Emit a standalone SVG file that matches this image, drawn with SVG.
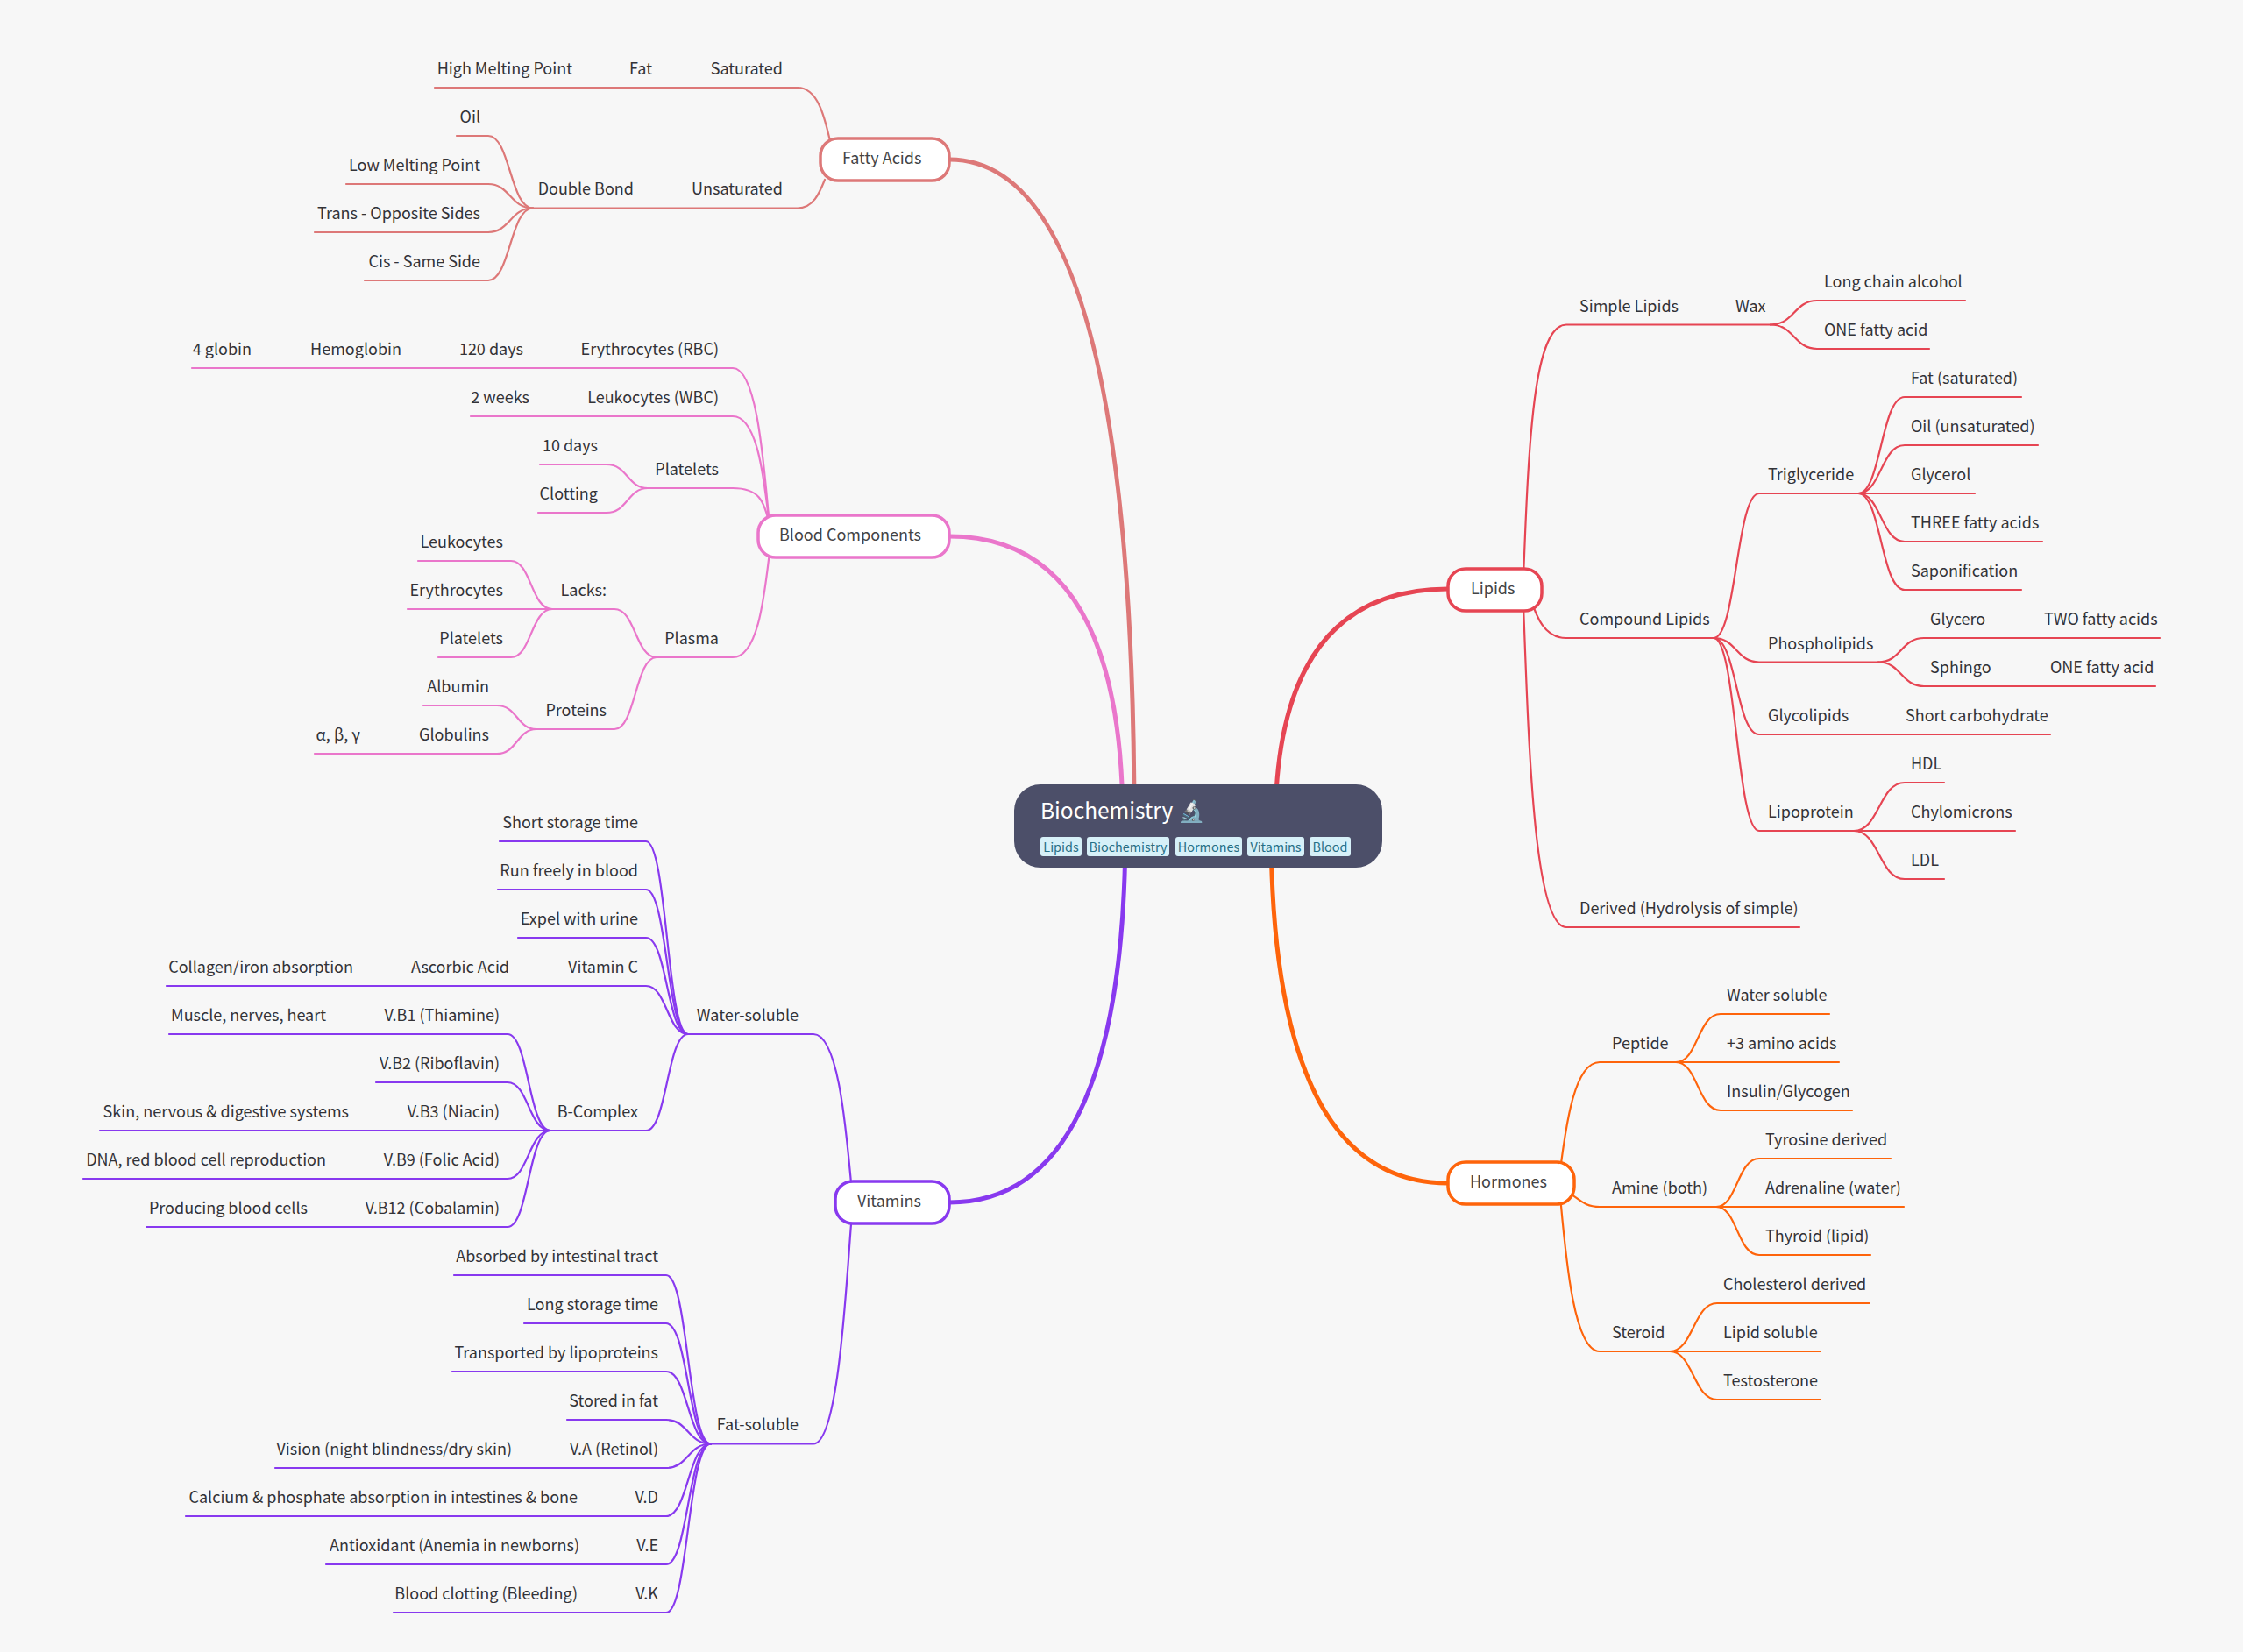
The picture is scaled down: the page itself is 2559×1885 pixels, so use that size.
<svg xmlns="http://www.w3.org/2000/svg" width="2559" height="1885" viewBox="0 0 2559 1885">
<style>
text{font-family:"Noto Sans CJK SC","Source Sans Pro","Noto Sans",sans-serif;font-size:18px;fill:#333338}
.e{text-anchor:end}
.m{fill:#444446}
.c path{fill:none;stroke-width:2.2;stroke-linecap:round}
.r path{fill:none;stroke-width:5}
.fa path{stroke:#dd7878}.bl path{stroke:#ea76cb}.vi path{stroke:#8839ef}.li path{stroke:#e64553}.ho path{stroke:#fe640b}
.main{fill:#fff;stroke-width:3.5}
.tag{fill:#d6f0f8}
.tt{font-size:14.4px;fill:#276f86;text-anchor:middle}
</style>
<rect width="2559" height="1885" fill="#f7f7f7"/>
<g id="connectors">
<g class="r">
<path stroke="#dd7878" d="M1294 940Q1294 182 1083 182"/>
<path stroke="#ea76cb" d="M1281 940Q1281 612 1083 612"/>
<path stroke="#8839ef" d="M1284 942Q1284 1372 1083 1372"/>
<path stroke="#e64553" d="M1455 942Q1455 672 1652 672"/>
<path stroke="#fe640b" d="M1450 942Q1450 1350 1652 1350"/>
</g>
<g class="c fa">
<path d="M948 165C942 140 935 100 910 100H496"/>
<path d="M941 205C935 220 928 237.5 910 237.5H608"/>
<path d="M608 237.5C582 237.5 582 155 557 155H521"/>
<path d="M608 237.5C582 237.5 582 210 557 210H395"/>
<path d="M608 237.5C582 237.5 582 265 557 265H359"/>
<path d="M608 237.5C582 237.5 582 320 557 320H416"/>
</g>
<g class="c bl">
<path d="M878 600C872 540 865 420 836 420H219"/>
<path d="M878 600C872 550 865 475 836 475H537"/>
<path d="M878 600C872 570 865 557 836 557H739"/>
<path d="M878 630C872 680 865 750 836 750H749"/>
<path d="M739 557C716 557 716 530 692 530H616"/>
<path d="M739 557C716 557 716 585 692 585H614"/>
<path d="M749 750C725 750 725 695 701 695H630"/>
<path d="M749 750C725 750 725 832 701 832H612"/>
<path d="M630 695C606 695 606 640 583 640H477"/>
<path d="M630 695C606 695 606 695 583 695H465"/>
<path d="M630 695C606 695 606 750 583 750H500"/>
<path d="M612 832C590 832 590 805 567 805H483"/>
<path d="M612 832C590 832 590 860 567 860H359"/>
</g>
<g class="c vi">
<path d="M972 1360C966 1300 958 1180 928 1180H785"/>
<path d="M972 1385C966 1450 958 1647.5 928 1647.5H811"/>
<path d="M785 1180C761 1180 761 960 737 960H570"/>
<path d="M785 1180C761 1180 761 1015 737 1015H568"/>
<path d="M785 1180C761 1180 761 1070 737 1070H591"/>
<path d="M785 1180C761 1180 761 1125 737 1125H190"/>
<path d="M785 1180C761 1180 761 1290 737 1290H628"/>
<path d="M628 1290C603 1290 603 1180 579 1180H193"/>
<path d="M628 1290C603 1290 603 1235 579 1235H429"/>
<path d="M628 1290C603 1290 603 1290 579 1290H114"/>
<path d="M628 1290C603 1290 603 1345 579 1345H95"/>
<path d="M628 1290C603 1290 603 1400 579 1400H167"/>
<path d="M811 1647.5C785 1647.5 785 1455 760 1455H518"/>
<path d="M811 1647.5C785 1647.5 785 1510 760 1510H598"/>
<path d="M811 1647.5C785 1647.5 785 1565 760 1565H516"/>
<path d="M811 1647.5C785 1647.5 785 1620 760 1620H647"/>
<path d="M811 1647.5C785 1647.5 785 1675 760 1675H314"/>
<path d="M811 1647.5C785 1647.5 785 1730 760 1730H212"/>
<path d="M811 1647.5C785 1647.5 785 1785 760 1785H372"/>
<path d="M811 1647.5C785 1647.5 785 1840 760 1840H449"/>
</g>
<g class="c li">
<path d="M1738 660C1744 500 1750 370.5 1787 370.5H2020"/>
<path d="M1745 680C1752 700 1760 728 1787 728H1955"/>
<path d="M1738 690C1744 850 1750 1058 1787 1058H2053"/>
<path d="M2020 370.5C2047 370.5 2047 343 2073 343H2242"/>
<path d="M2020 370.5C2047 370.5 2047 398 2073 398H2201"/>
<path d="M1955 728C1981 728 1981 563 2007 563H2120"/>
<path d="M1955 728C1981 728 1981 755.5 2007 755.5H2143"/>
<path d="M1955 728C1981 728 1981 838 2007 838H2339"/>
<path d="M1955 728C1981 728 1981 948 2007 948H2115"/>
<path d="M2120 563C2146 563 2146 453 2173 453H2306"/>
<path d="M2120 563C2146 563 2146 508 2173 508H2325"/>
<path d="M2120 563C2146 563 2146 563 2173 563H2253"/>
<path d="M2120 563C2146 563 2146 618 2173 618H2330"/>
<path d="M2120 563C2146 563 2146 673 2173 673H2306"/>
<path d="M2143 755.5C2169 755.5 2169 728 2195 728H2464"/>
<path d="M2143 755.5C2169 755.5 2169 783 2195 783H2459"/>
<path d="M2115 948C2144 948 2144 893 2173 893H2218"/>
<path d="M2115 948C2144 948 2144 948 2173 948H2299"/>
<path d="M2115 948C2144 948 2144 1003 2173 1003H2218"/>
</g>
<g class="c ho">
<path d="M1780 1335C1786 1290 1795 1212 1825 1212H1912"/>
<path d="M1790 1362C1800 1365 1805 1377 1825 1377H1958"/>
<path d="M1780 1365C1786 1430 1795 1542 1825 1542H1905"/>
<path d="M1912 1212C1937 1212 1937 1157 1963 1157H2087"/>
<path d="M1912 1212C1937 1212 1937 1212 1963 1212H2098"/>
<path d="M1912 1212C1937 1212 1937 1267 1963 1267H2113"/>
<path d="M1958 1377C1982 1377 1982 1322 2007 1322H2157"/>
<path d="M1958 1377C1982 1377 1982 1377 2007 1377H2172"/>
<path d="M1958 1377C1982 1377 1982 1432 2007 1432H2134"/>
<path d="M1905 1542C1932 1542 1932 1487 1959 1487H2133"/>
<path d="M1905 1542C1932 1542 1932 1542 1959 1542H2077"/>
<path d="M1905 1542C1932 1542 1932 1597 1959 1597H2077"/>
</g>
</g>
<g id="root">
<rect x="1157" y="895" width="420" height="95" rx="30" fill="#4c4f69"/>
<text x="1187" y="934" style="font-size:24.5px;fill:#fff">Biochemistry 🔬</text>
<rect class="tag" x="1187" y="955" width="47" height="22" rx="3"/><text class="tt" x="1210.5" y="971.5">Lipids</text>
<rect class="tag" x="1240" y="955" width="94" height="22" rx="3"/><text class="tt" x="1287" y="971.5">Biochemistry</text>
<rect class="tag" x="1341" y="955" width="76" height="22" rx="3"/><text class="tt" x="1379" y="971.5">Hormones</text>
<rect class="tag" x="1423" y="955" width="65" height="22" rx="3"/><text class="tt" x="1455.5" y="971.5">Vitamins</text>
<rect class="tag" x="1494" y="955" width="47" height="22" rx="3"/><text class="tt" x="1517.5" y="971.5">Blood</text>
</g>
<g id="fatty-acids">
<rect class="main" stroke="#dd7878" x="936" y="158" width="147" height="48" rx="20"/>
<text class="m" x="961" y="187">Fatty Acids</text>
<text class="e" x="893" y="85">Saturated</text><text class="e" x="744" y="85">Fat</text><text class="e" x="653" y="85">High Melting Point</text>
<text class="e" x="893" y="222">Unsaturated</text><text class="e" x="723" y="222">Double Bond</text>
<text class="e" x="548" y="140">Oil</text><text class="e" x="548" y="195">Low Melting Point</text><text class="e" x="548" y="250">Trans - Opposite Sides</text><text class="e" x="548" y="305">Cis - Same Side</text>
</g>
<g id="blood-components">
<rect class="main" stroke="#ea76cb" x="865" y="588" width="218" height="48" rx="20"/>
<text class="m" x="889" y="617">Blood Components</text>
<text class="e" x="820" y="405">Erythrocytes (RBC)</text><text class="e" x="597" y="405">120 days</text><text class="e" x="458" y="405">Hemoglobin</text><text class="e" x="287" y="405">4 globin</text>
<text class="e" x="820" y="460">Leukocytes (WBC)</text><text class="e" x="604" y="460">2 weeks</text>
<text class="e" x="820" y="542">Platelets</text><text class="e" x="682" y="515">10 days</text><text class="e" x="682" y="570">Clotting</text>
<text class="e" x="820" y="735">Plasma</text><text class="e" x="692" y="680">Lacks:</text><text class="e" x="692" y="817">Proteins</text>
<text class="e" x="574" y="625">Leukocytes</text><text class="e" x="574" y="680">Erythrocytes</text><text class="e" x="574" y="735">Platelets</text>
<text class="e" x="558" y="790">Albumin</text><text class="e" x="558" y="845">Globulins</text><text class="e" x="411" y="845">α, β, γ</text>
</g>
<g id="vitamins">
<rect class="main" stroke="#8839ef" x="953" y="1348" width="130" height="48" rx="20"/>
<text class="m" x="978" y="1377">Vitamins</text>
<text class="e" x="911" y="1165">Water-soluble</text><text class="e" x="911" y="1632">Fat-soluble</text>
<text class="e" x="728" y="945">Short storage time</text><text class="e" x="728" y="1000">Run freely in blood</text><text class="e" x="728" y="1055">Expel with urine</text>
<text class="e" x="728" y="1110">Vitamin C</text><text class="e" x="581" y="1110">Ascorbic Acid</text><text class="e" x="403" y="1110">Collagen/iron absorption</text>
<text class="e" x="728" y="1275">B-Complex</text>
<text class="e" x="570" y="1165">V.B1 (Thiamine)</text><text class="e" x="372" y="1165">Muscle, nerves, heart</text>
<text class="e" x="570" y="1220">V.B2 (Riboflavin)</text>
<text class="e" x="570" y="1275">V.B3 (Niacin)</text><text class="e" x="398" y="1275">Skin, nervous &amp; digestive systems</text>
<text class="e" x="570" y="1330">V.B9 (Folic Acid)</text><text class="e" x="372" y="1330">DNA, red blood cell reproduction</text>
<text class="e" x="570" y="1385">V.B12 (Cobalamin)</text><text class="e" x="351" y="1385">Producing blood cells</text>
<text class="e" x="751" y="1440">Absorbed by intestinal tract</text><text class="e" x="751" y="1495">Long storage time</text><text class="e" x="751" y="1550">Transported by lipoproteins</text><text class="e" x="751" y="1605">Stored in fat</text>
<text class="e" x="751" y="1660">V.A (Retinol)</text><text class="e" x="584" y="1660">Vision (night blindness/dry skin)</text>
<text class="e" x="751" y="1715">V.D</text><text class="e" x="659" y="1715">Calcium &amp; phosphate absorption in intestines &amp; bone</text>
<text class="e" x="751" y="1770">V.E</text><text class="e" x="661" y="1770">Antioxidant (Anemia in newborns)</text>
<text class="e" x="751" y="1825">V.K</text><text class="e" x="659" y="1825">Blood clotting (Bleeding)</text>
</g>
<g id="lipids">
<rect class="main" stroke="#e64553" x="1652" y="649" width="107" height="48" rx="20"/>
<text class="m" x="1678" y="678">Lipids</text>
<text x="1802" y="356">Simple Lipids</text><text x="1980" y="356">Wax</text>
<text x="2081" y="328">Long chain alcohol</text><text x="2081" y="383">ONE fatty acid</text>
<text x="1802" y="713">Compound Lipids</text>
<text x="2017" y="548">Triglyceride</text>
<text x="2180" y="438">Fat (saturated)</text><text x="2180" y="493">Oil (unsaturated)</text><text x="2180" y="548">Glycerol</text><text x="2180" y="603">THREE fatty acids</text><text x="2180" y="658">Saponification</text>
<text x="2017" y="741">Phospholipids</text><text x="2202" y="713">Glycero</text><text x="2332" y="713">TWO fatty acids</text><text x="2202" y="768">Sphingo</text><text x="2339" y="768">ONE fatty acid</text>
<text x="2017" y="823">Glycolipids</text><text x="2174" y="823">Short carbohydrate</text>
<text x="2017" y="933">Lipoprotein</text><text x="2180" y="878">HDL</text><text x="2180" y="933">Chylomicrons</text><text x="2180" y="988">LDL</text>
<text x="1802" y="1043">Derived (Hydrolysis of simple)</text>
</g>
<g id="hormones">
<rect class="main" stroke="#fe640b" x="1652" y="1326" width="144" height="48" rx="20"/>
<text class="m" x="1677" y="1355">Hormones</text>
<text x="1839" y="1197">Peptide</text><text x="1970" y="1142">Water soluble</text><text x="1970" y="1197">+3 amino acids</text><text x="1970" y="1252">Insulin/Glycogen</text>
<text x="1839" y="1362">Amine (both)</text><text x="2014" y="1307">Tyrosine derived</text><text x="2014" y="1362">Adrenaline (water)</text><text x="2014" y="1417">Thyroid (lipid)</text>
<text x="1839" y="1527">Steroid</text><text x="1966" y="1472">Cholesterol derived</text><text x="1966" y="1527">Lipid soluble</text><text x="1966" y="1582">Testosterone</text>
</g>
</svg>
